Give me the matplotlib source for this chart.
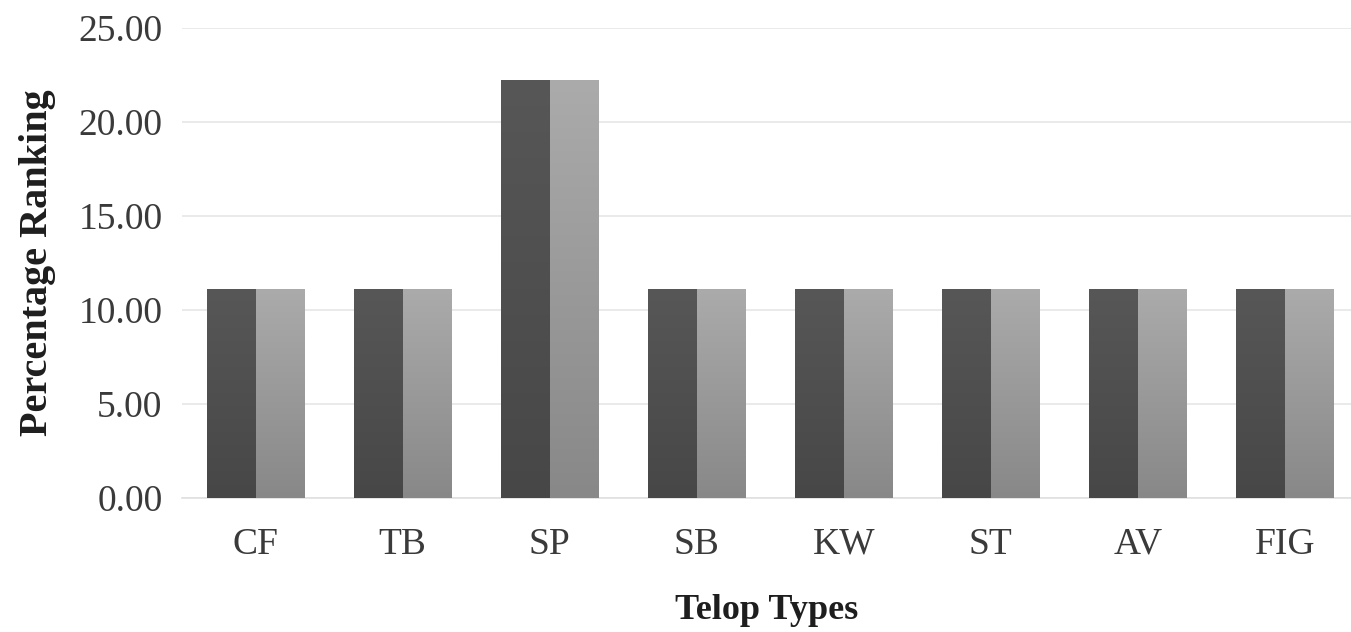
import matplotlib
matplotlib.use("Agg")
import matplotlib.pyplot as plt
import numpy as np
from matplotlib.colors import LinearSegmentedColormap

categories = ["CF", "TB", "SP", "SB", "KW", "ST", "AV", "FIG"]
series_a = [11.11, 11.11, 22.22, 11.11, 11.11, 11.11, 11.11, 11.11]
series_b = [11.11, 11.11, 22.22, 11.11, 11.11, 11.11, 11.11, 11.11]
y_ticks = [0, 5, 10, 15, 20, 25]

plt.rcParams["font.family"] = ["Liberation Serif", "DejaVu Serif"]

fig = plt.figure(figsize=(13.51, 6.32), dpi=100)
ax = fig.add_axes([0.1347, 0.212, 0.8653, 0.7443])

x = np.arange(len(categories))
width = 0.33
bars_a = ax.bar(x - width / 2, series_a, width, color="#4f4f4f", zorder=2)
bars_b = ax.bar(x + width / 2, series_b, width, color="#999999", zorder=2)

# vertical gradients clipped to each bar
grad = np.linspace(0, 1, 256).reshape(-1, 1)
cmap_a = LinearSegmentedColormap.from_list("a", ["#474747", "#575757"])
cmap_b = LinearSegmentedColormap.from_list("b", ["#888888", "#ababab"])
for bars, cmap in ((bars_a, cmap_a), (bars_b, cmap_b)):
    for bar in bars:
        bx, by = bar.get_x(), bar.get_y()
        bw, bh = bar.get_width(), bar.get_height()
        im = ax.imshow(grad, cmap=cmap, origin="lower", aspect="auto",
                       extent=[bx, bx + bw, by, by + bh], zorder=3)
        im.set_clip_path(bar)

ax.set_xlim(-0.5, 7.45)
ax.set_ylim(0, 25)
ax.set_yticks(y_ticks)
ax.set_yticklabels([f"{v:.2f}" for v in y_ticks])
ax.set_xticks(x)
ax.set_xticklabels(categories)
ax.grid(axis="y", color="#e6e6e6", linewidth=1.2, zorder=0)
ax.set_axisbelow(True)
for side in ("top", "right", "left"):
    ax.spines[side].set_visible(False)
ax.spines["bottom"].set_color("#e0e0e0")
ax.spines["bottom"].set_linewidth(1.2)
ax.tick_params(axis="y", length=0, pad=14, labelsize=27, labelcolor="#3a3a3a")
ax.tick_params(axis="x", length=0, pad=21, labelsize=27, labelcolor="#3a3a3a")

ax.set_ylabel("Percentage Ranking", fontsize=29, fontweight="bold",
              labelpad=16, color="#1e1e1e")
ax.set_xlabel("Telop Types", fontsize=26, fontweight="bold",
              labelpad=23, color="#1e1e1e")

fig.savefig("out.png", dpi=100, facecolor="white")
